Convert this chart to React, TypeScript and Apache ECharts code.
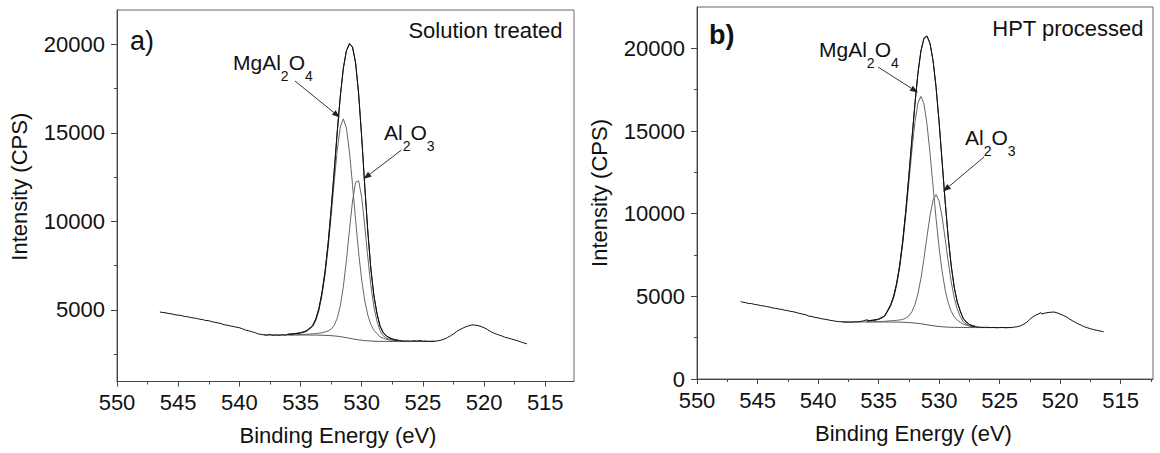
import { useEffect, useRef } from "react";
import * as echarts from "echarts";

// ---------- shared energy grid of the fitted region (eV) ----------
const fitEnergy = [536, 535.5, 535, 534.5, 534, 533.75, 533.5, 533.25, 533, 532.75, 532.5, 532.25, 532, 531.75, 531.5, 531.25, 531, 530.75, 530.5, 530.25, 530, 529.75, 529.5, 529.25, 529, 528.75, 528.5, 528.25, 528, 527.5, 527];
const bgEnergy = [538, 537, 536, 535.5, 535, 534.5, 534, 533.75, 533.5, 533.25, 533, 532.75, 532.5, 532.25, 532, 531.75, 531.5, 531.25, 531, 530.75, 530.5, 530.25, 530, 529.75, 529.5, 529.25, 529, 528.75, 528.5, 528.25, 528, 527.5, 527, 526, 525, 524];

// ---------- panel a) Solution treated ----------
const bgA = [3585, 3582, 3580, 3579, 3579, 3578, 3575, 3573, 3570, 3566, 3560, 3552, 3541, 3527, 3508, 3486, 3458, 3428, 3395, 3362, 3332, 3304, 3282, 3263, 3249, 3238, 3230, 3224, 3220, 3217, 3215, 3212, 3211, 3210, 3210, 3211];
const mgA = [3620, 3639, 3679, 3778, 4055, 4393, 4950, 5814, 6957, 8468, 10284, 12232, 14034, 15336, 15798, 15278, 13921, 12067, 10075, 8220, 6679, 5511, 4698, 4171, 3847, 3657, 3470, 3397, 3335, 3272, 3241];
const alA = [3590, 3594, 3604, 3618, 3645, 3663, 3680, 3706, 3752, 3804, 3910, 4122, 4524, 5228, 6317, 7799, 9519, 11149, 12213, 12295, 11349, 9741, 7961, 6371, 5162, 4357, 3820, 3547, 3405, 3292, 3246];
const envA = [3630, 3654, 3704, 3818, 4125, 4483, 5060, 5954, 7149, 8720, 10653, 12827, 15050, 17078, 18657, 19649, 20045, 19854, 18956, 17211, 14746, 11989, 9410, 7304, 5779, 4790, 4070, 3727, 3525, 3352, 3276];
const rawA = [
  [546.5, 4880], [546.25, 4850], [546, 4830], [545.75, 4790], [545.5, 4770], [545.25, 4720], [545, 4700], [544.75, 4680],
  [544.5, 4630], [544.25, 4610], [544, 4570], [543.75, 4540], [543.5, 4520], [543.25, 4470], [543, 4450], [542.75, 4400],
  [542.5, 4390], [542.25, 4330], [542, 4300], [541.75, 4260], [541.5, 4230], [541.25, 4150], [541, 4140], [540.75, 4090],
  [540.5, 4060], [540.25, 4020], [540, 3990], [539.75, 3930], [539.5, 3860], [539.25, 3820], [539, 3770], [538.75, 3720],
  [538.5, 3650], [538.25, 3610], [538, 3590], [537.75, 3570], [537.5, 3600], [537.25, 3560], [537, 3580], [536.75, 3560],
  [536.5, 3590], [536.25, 3570], [536, 3620], [535.75, 3610], [535.5, 3660], [535.25, 3670], [535, 3710], [534.75, 3740],
  [534.5, 3830], [534.25, 3950], [534, 4120], [533.75, 4490], [533.5, 5070], [533.25, 5950], [533, 7150], [532.75, 8720],
  [532.5, 10660], [532.25, 12820], [532, 15060], [531.75, 17070], [531.5, 18660], [531.25, 19650], [531, 20050], [530.75, 19850],
  [530.5, 18960], [530.25, 17200], [530, 14750], [529.75, 11990], [529.5, 9410], [529.25, 7300], [529, 5780], [528.75, 4790],
  [528.5, 4080], [528.25, 3720], [528, 3530], [527.75, 3420], [527.5, 3360], [527.25, 3300], [527, 3280], [526.75, 3260],
  [526.5, 3240], [526.25, 3250], [526, 3230], [525.75, 3260], [525.5, 3240], [525.25, 3270], [525, 3230], [524.75, 3240],
  [524.5, 3220], [524.25, 3230], [524, 3230], [523.75, 3250], [523.5, 3290], [523.25, 3350], [523, 3430], [522.75, 3530],
  [522.5, 3640], [522.25, 3770], [522, 3880], [521.75, 3960], [521.5, 4040], [521.25, 4100], [521, 4150], [520.75, 4140],
  [520.5, 4110], [520.25, 4060], [520, 3990], [519.75, 3900], [519.5, 3790], [519.25, 3700], [519, 3630], [518.75, 3570],
  [518.5, 3510], [518.25, 3440], [518, 3400], [517.75, 3350], [517.5, 3300], [517.25, 3250], [517, 3190], [516.75, 3130],
  [516.5, 3080],
];

// ---------- panel b) HPT processed ----------
const bgB = [3452, 3451, 3450, 3449, 3449, 3448, 3445, 3443, 3441, 3437, 3432, 3424, 3414, 3401, 3384, 3363, 3338, 3310, 3280, 3250, 3222, 3197, 3176, 3159, 3146, 3136, 3128, 3123, 3119, 3117, 3115, 3112, 3111, 3110, 3110, 3111];
const mgB = [3500, 3529, 3599, 3778, 4410, 4922, 5692, 6775, 8197, 9927, 11859, 13806, 15512, 16691, 17098, 16638, 15408, 13655, 11667, 9700, 7941, 6497, 5397, 4615, 4093, 3760, 3558, 3438, 3315, 3202, 3151];
const alB = [3462, 3467, 3474, 3488, 3525, 3534, 3549, 3570, 3607, 3678, 3812, 4062, 4486, 5151, 6091, 7285, 8618, 9887, 10816, 11147, 10770, 9796, 8484, 7111, 5881, 4911, 4221, 3778, 3445, 3202, 3151];
const envB = [3512, 3547, 3624, 3818, 4490, 5013, 5800, 6908, 8372, 10181, 12257, 14467, 16614, 18479, 19851, 20613, 20746, 20292, 19261, 17650, 15535, 13134, 10735, 8590, 6846, 5548, 4660, 4099, 3645, 3292, 3191];
const rawB = [
  [546.4, 4680], [546.25, 4650], [546, 4620], [545.75, 4570], [545.5, 4560], [545.25, 4510], [545, 4490], [544.75, 4440],
  [544.5, 4420], [544.25, 4380], [544, 4350], [543.75, 4300], [543.5, 4270], [543.25, 4230], [543, 4210], [542.75, 4160],
  [542.5, 4130], [542.25, 4090], [542, 4060], [541.75, 4010], [541.5, 3960], [541.25, 3920], [541, 3880], [540.75, 3800],
  [540.5, 3780], [540.25, 3720], [540, 3700], [539.75, 3650], [539.5, 3620], [539.25, 3590], [539, 3550], [538.75, 3520],
  [538.5, 3490], [538.25, 3470], [538, 3460], [537.75, 3440], [537.5, 3450], [537.25, 3430], [537, 3460], [536.75, 3450],
  [536.5, 3480], [536.25, 3520], [536, 3580], [535.75, 3530], [535.5, 3560], [535.25, 3570], [535, 3620], [534.75, 3690],
  [534.5, 3830], [534.25, 4120], [534, 4480], [533.75, 5010], [533.5, 5810], [533.25, 6900], [533, 8380], [532.75, 10180],
  [532.5, 12260], [532.25, 14470], [532, 16610], [531.75, 18480], [531.5, 19850], [531.25, 20610], [531, 20750], [530.75, 20290],
  [530.5, 19260], [530.25, 17650], [530, 15540], [529.75, 13130], [529.5, 10740], [529.25, 8590], [529, 6850], [528.75, 5550],
  [528.5, 4660], [528.25, 4100], [528, 3650], [527.75, 3420], [527.5, 3300], [527.25, 3200], [527, 3170], [526.75, 3140],
  [526.5, 3130], [526.25, 3120], [526, 3130], [525.75, 3110], [525.5, 3120], [525.25, 3100], [525, 3110], [524.75, 3120],
  [524.5, 3100], [524.25, 3110], [524, 3120], [523.75, 3140], [523.5, 3170], [523.25, 3220], [523, 3320], [522.75, 3430],
  [522.5, 3620], [522.25, 3760], [522, 3870], [521.75, 3950], [521.6, 4010], [521.5, 3930], [521.25, 3990], [521, 4020],
  [520.75, 4040], [520.5, 4050], [520.25, 4000], [520, 3930], [519.75, 3850], [519.5, 3760], [519.25, 3640], [519, 3530],
  [518.75, 3430], [518.5, 3330], [518.25, 3250], [518, 3160], [517.75, 3100], [517.5, 3040], [517.25, 2990], [517, 2950],
  [516.75, 2910], [516.5, 2870], [516.4, 2860],
];

// ---------- tick labels ----------
const xTickLabels = [515, 520, 525, 530, 535, 540, 545, 550];
const yTickLabelsA = [5000, 10000, 15000, 20000];
const yTickLabelsB = [0, 5000, 10000, 15000, 20000];

const FONT = '"Liberation Sans", Arial, Helvetica, sans-serif';
const AXIS = "#444";
const TXT = "#111";

function pair(xs: number[], ys: number[]) {
  return xs.map((x, i) => [x, ys[i]]);
}

function xAxisCfg(grid: number, min: number, padRight: number) {
  return {
    gridIndex: grid,
    type: "value",
    min,
    max: 550,
    inverse: true,
    splitNumber: 8,
    axisLine: { show: true, onZero: false, lineStyle: { color: AXIS, width: 1 } },
    axisTick: { show: true, length: 5, customValues: xTickLabels, lineStyle: { color: AXIS } },
    minorTick: { show: true, splitNumber: 2, length: 3, lineStyle: { color: AXIS } },
    axisLabel: { customValues: xTickLabels, fontSize: 22, color: TXT, margin: 10, fontFamily: FONT, formatter: (v: number) => String(v) },
    splitLine: { show: false },
    minorSplitLine: { show: false },
    name: "Binding Energy (eV)",
    nameLocation: "middle",
    nameGap: 43,
    nameTextStyle: { fontSize: 22, color: TXT, fontFamily: FONT, padding: [0, padRight, 0, 0] },
  };
}

function yAxisCfg(grid: number, min: number, max: number, labels: number[], padLeft: number) {
  return {
    gridIndex: grid,
    type: "value",
    min,
    max,
    splitNumber: 4,
    axisLine: { show: true, onZero: false, lineStyle: { color: AXIS, width: 1 } },
    axisTick: { show: true, length: 6, customValues: labels, lineStyle: { color: AXIS } },
    minorTick: { show: true, splitNumber: 2, length: 3, lineStyle: { color: AXIS } },
    axisLabel: { customValues: labels, fontSize: 22, color: TXT, margin: 12, fontFamily: FONT, formatter: (v: number) => String(v) },
    splitLine: { show: false },
    minorSplitLine: { show: false },
    name: "Intensity (CPS)",
    nameLocation: "middle",
    nameGap: 87,
    nameTextStyle: { fontSize: 22, color: TXT, fontFamily: FONT, padding: [0, 0, 0, padLeft] },
  };
}

function line(name: string, data: number[][], idx: number, color: string, z: number) {
  return {
    name,
    type: "line",
    xAxisIndex: idx,
    yAxisIndex: idx,
    data,
    showSymbol: false,
    symbol: "none",
    smooth: false,
    lineStyle: { color, width: 1 },
    z,
    silent: true,
  };
}

function txt(x: number, y: number, text: string, size: number, align = "left", weight = "normal") {
  return {
    type: "text",
    x,
    y,
    silent: true,
    style: { text, fontSize: size, fontFamily: FONT, fontWeight: weight, fill: TXT, align, verticalAlign: "middle" },
  };
}

function formula(x: number, yMid: number, a: string, sa: string, b: string, sb: string) {
  return {
    type: "text",
    x,
    y: yMid,
    silent: true,
    style: {
      text: `{m|${a}}{s|${sa}}{m|${b}}{s|${sb}}`,
      fill: TXT,
      align: "left",
      verticalAlign: "middle",
      rich: {
        m: { fontSize: 21, fontFamily: FONT, fill: TXT, lineHeight: 26 },
        s: { fontSize: 14, fontFamily: FONT, fill: TXT, lineHeight: 14, padding: [26, 0, 0, 0] },
      },
    },
  };
}

function arrow(x1: number, y1: number, x2: number, y2: number) {
  const dx = x2 - x1, dy = y2 - y1;
  const L = Math.hypot(dx, dy);
  const ux = dx / L, uy = dy / L;
  const hl = 8, hw = 3;
  const bx = x2 - ux * hl, by = y2 - uy * hl;
  return [
    { type: "line", silent: true, shape: { x1, y1, x2: bx, y2: by }, style: { stroke: "#333", lineWidth: 1 } },
    {
      type: "polygon",
      silent: true,
      shape: { points: [[x2, y2], [bx - uy * hw, by + ux * hw], [bx + uy * hw, by - ux * hw]] },
      style: { fill: "#222" },
    },
  ];
}

export default function App() {
  const ref = useRef<HTMLDivElement>(null);
  useEffect(() => {
    if (!ref.current) return;
    const chart = echarts.init(ref.current, null, { renderer: "svg" });
    const option = {
      animation: false,
      backgroundColor: "#ffffff",
      grid: [
        { left: 117, top: 10, width: 457, height: 371.5, show: true, borderColor: "#666", borderWidth: 1, backgroundColor: "transparent" },
        { left: 697, top: 7, width: 456, height: 372, show: true, borderColor: "#666", borderWidth: 1, backgroundColor: "transparent" },
      ],
      xAxis: [xAxisCfg(0, 512.65, 15), xAxisCfg(1, 512.33, 23)],
      yAxis: [yAxisCfg(0, 950, 21950, yTickLabelsA, 18), yAxisCfg(1, 0, 22500, yTickLabelsB, 0)],
      series: [
        line("Background a", pair(bgEnergy, bgA), 0, "#555", 2),
        line("MgAl2O4 a", pair(fitEnergy, mgA), 0, "#666", 3),
        line("Al2O3 a", pair(fitEnergy, alA), 0, "#666", 3),
        line("Envelope a", pair(fitEnergy, envA), 0, "#222", 4),
        line("Raw a", rawA, 0, "#111", 5),
        line("Background b", pair(bgEnergy, bgB), 1, "#555", 2),
        line("MgAl2O4 b", pair(fitEnergy, mgB), 1, "#666", 3),
        line("Al2O3 b", pair(fitEnergy, alB), 1, "#666", 3),
        line("Envelope b", pair(fitEnergy, envB), 1, "#222", 4),
        line("Raw b", rawB, 1, "#111", 5),
      ],
      graphic: [
        txt(130, 41, "a)", 27),
        txt(562.5, 30, "Solution treated", 22, "right"),
        txt(709, 35, "b)", 27, "left", "bold"),
        txt(1143.5, 28, "HPT processed", 22, "right"),
        formula(233, 62.5, "MgAl", "2", "O", "4"),
        formula(384, 132.5, "Al", "2", "O", "3"),
        formula(819, 49.5, "MgAl", "2", "O", "4"),
        formula(965, 137.5, "Al", "2", "O", "3"),
        ...arrow(295, 81, 340, 117.5),
        ...arrow(401.5, 150, 363.5, 179),
        ...arrow(878, 67, 918, 92.5),
        ...arrow(984, 157, 943, 191.5),
      ],
    };
    chart.setOption(option as any);
    return () => chart.dispose();
  }, []);
  return <div ref={ref} style={{ position: "fixed", left: 0, top: 0, width: 1160, height: 453, background: "#fff" }} />;
}
